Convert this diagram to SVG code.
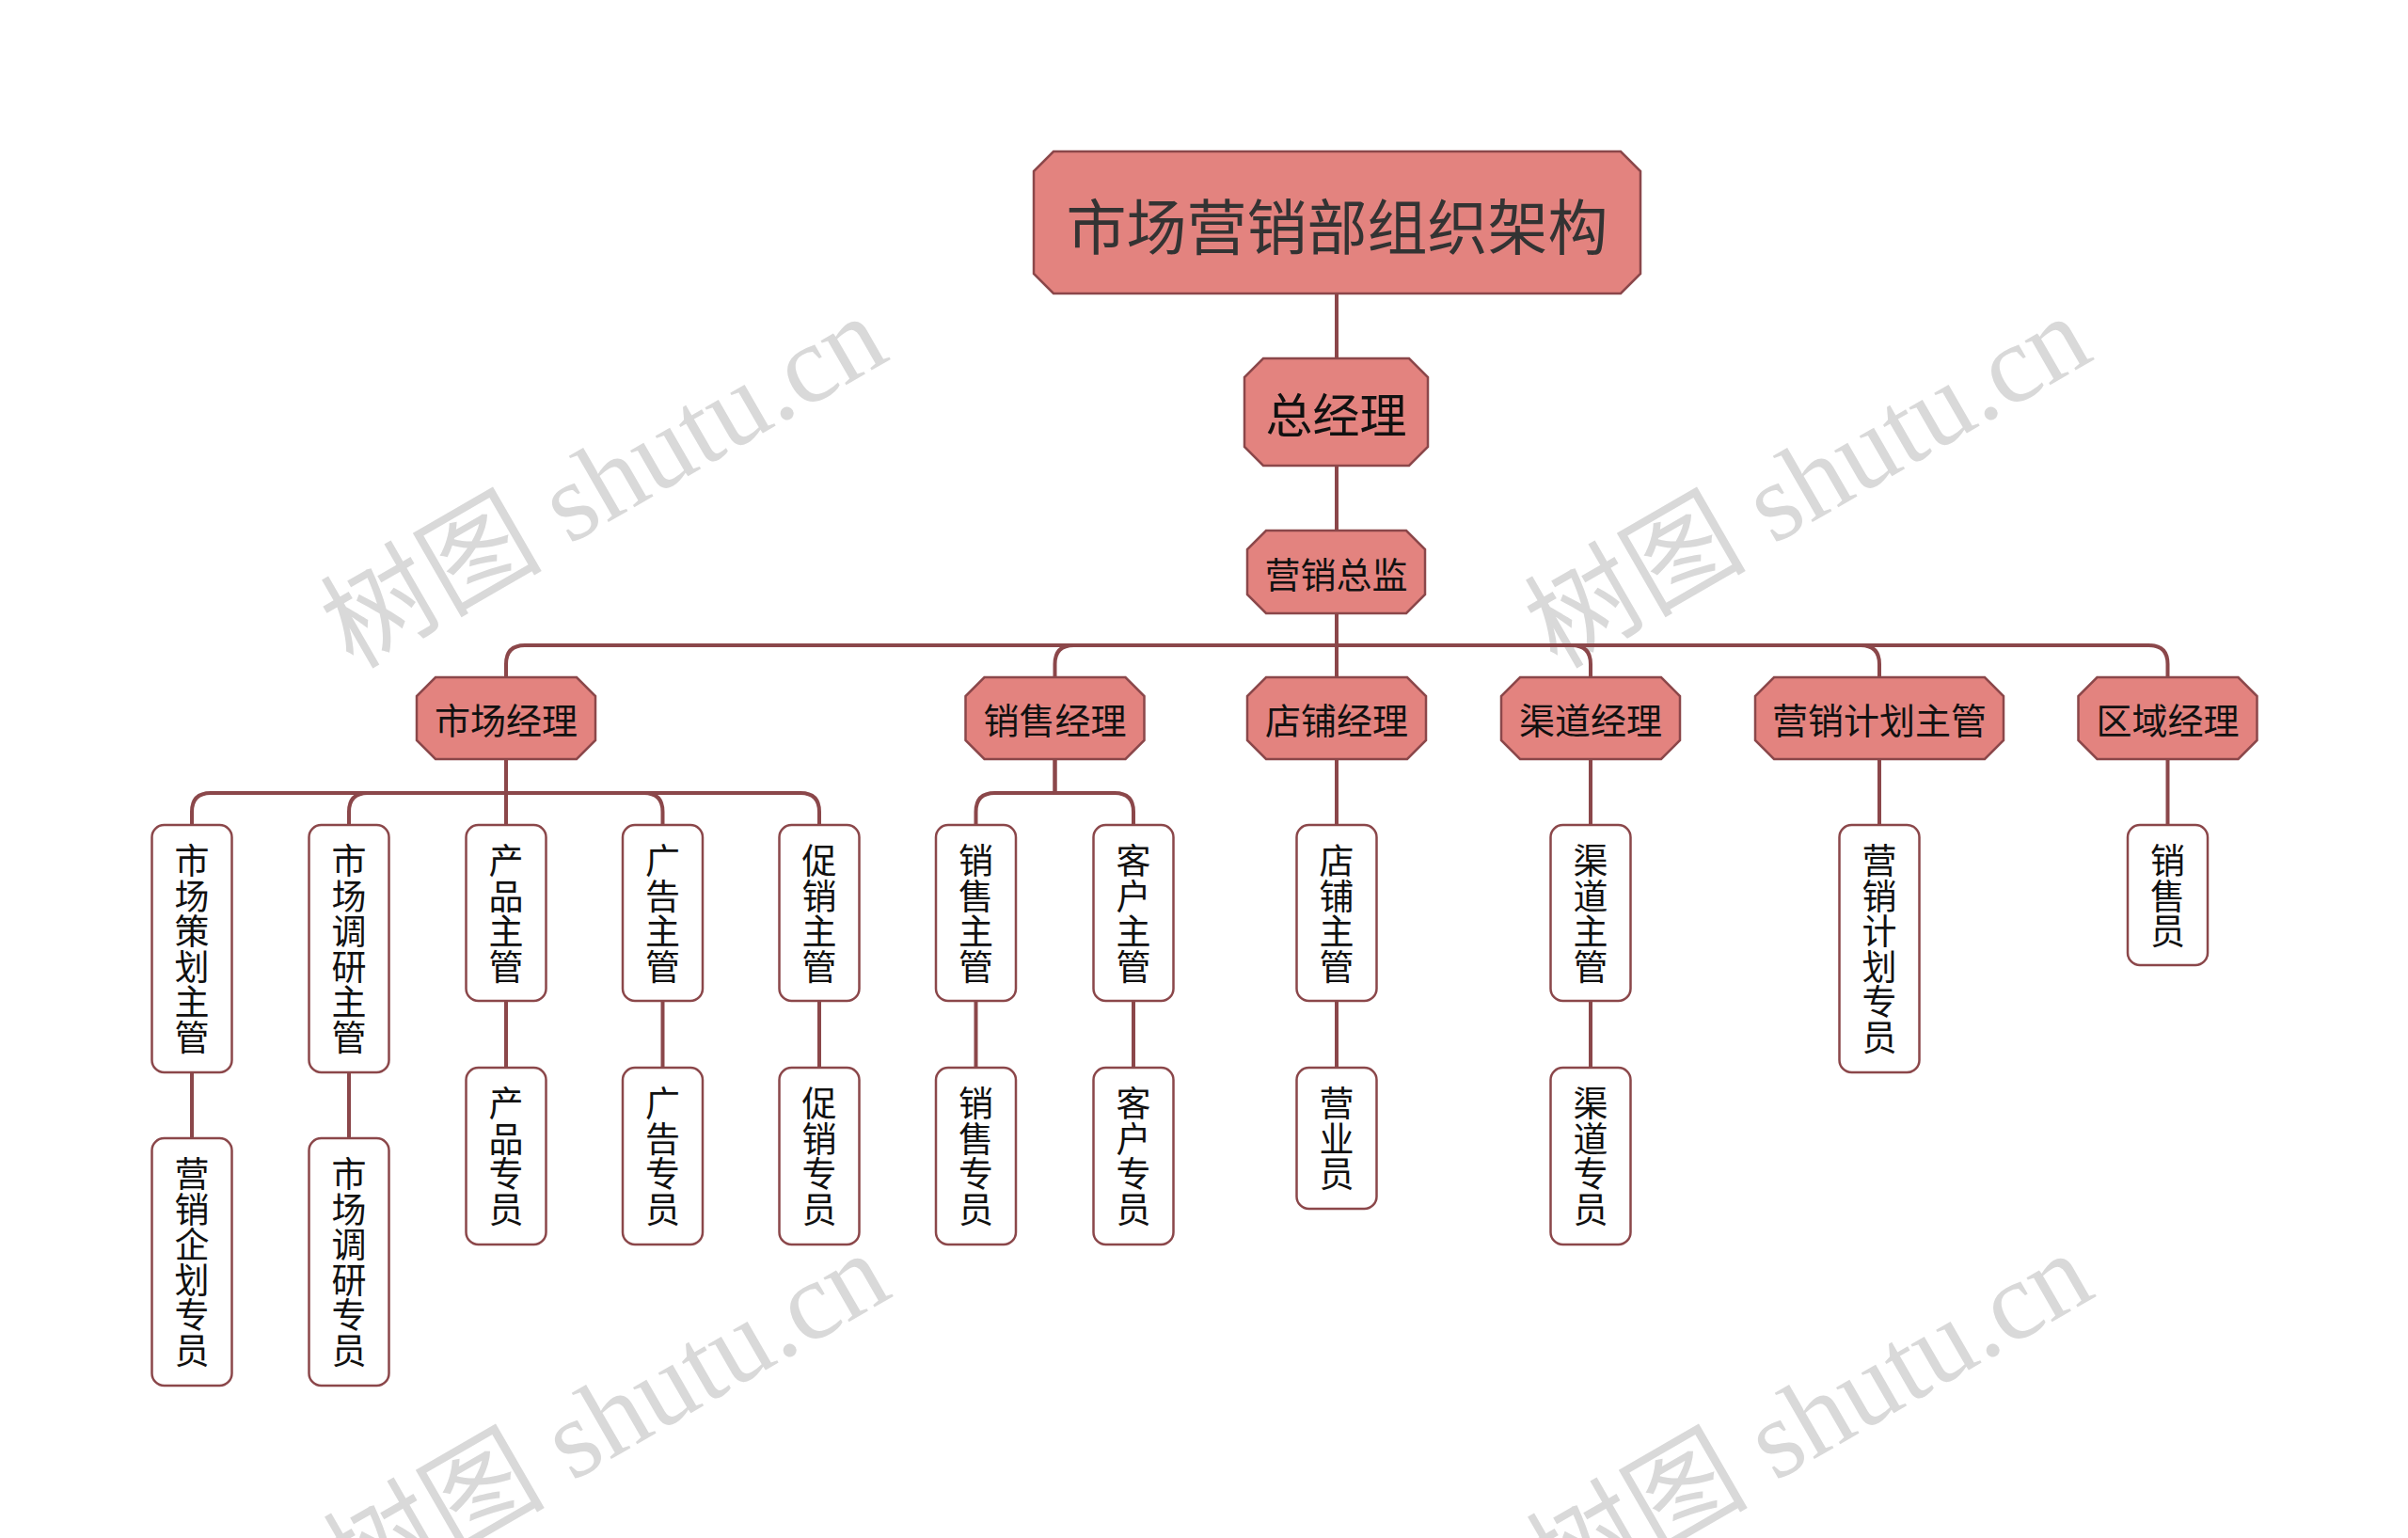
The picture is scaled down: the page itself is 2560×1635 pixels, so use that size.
<svg xmlns="http://www.w3.org/2000/svg" width="2560" height="1635" viewBox="0 0 2560 1635">
<style>
.bg{fill:#ffffff}
.oct{fill:#E3837F;stroke:#8B474A;stroke-width:2.5}
.leaf{fill:#ffffff;stroke:#8B474A;stroke-width:2.5}
#connectors path{fill:none;stroke:#8B474A;stroke-width:4}
.t{font-family:"Noto Sans CJK SC","Noto Sans",sans-serif;fill:#111111;text-anchor:middle;dominant-baseline:central}
.root{font-size:64px;fill:#333333}
.l1{font-size:50px}
.l2{font-size:38px}
.lf{font-size:37px}
.wm{font-family:"Liberation Serif","Noto Sans CJK SC",serif;font-size:118px;fill:#d9d9d9}
</style>
<rect class="bg" x="0" y="0" width="2560" height="1635"/>
<g id="watermarks">
<text class="wm" transform="translate(375,712) rotate(-30)">树图 shutu.cn</text>
<text class="wm" transform="translate(1655,712) rotate(-30)">树图 shutu.cn</text>
<text class="wm" transform="translate(378,1708) rotate(-30)">树图 shutu.cn</text>
<text class="wm" transform="translate(1657,1708) rotate(-30)">树图 shutu.cn</text>
</g>
<g id="connectors">
<path d="M1421 312 V381"/>
<path d="M1421 495 V564"/>
<path d="M1421 652 V686 H558 Q538 686 538 706 V720"/>
<path d="M1421 652 V686 H1141.5 Q1121.5 686 1121.5 706 V720"/>
<path d="M1421 652 V720"/>
<path d="M1421 652 V686 H1671 Q1691 686 1691 706 V720"/>
<path d="M1421 652 V686 H1978 Q1998 686 1998 706 V720"/>
<path d="M1421 652 V686 H2284.5 Q2304.5 686 2304.5 706 V720"/>
<path d="M538 807 V843 H224 Q204 843 204 863 V877"/>
<path d="M538 807 V843 H391 Q371 843 371 863 V877"/>
<path d="M538 807 V877"/>
<path d="M538 807 V843 H684.5 Q704.5 843 704.5 863 V877"/>
<path d="M538 807 V843 H851 Q871 843 871 863 V877"/>
<path d="M1121.5 807 V843 H1057.5 Q1037.5 843 1037.5 863 V877"/>
<path d="M1121.5 807 V843 H1185 Q1205 843 1205 863 V877"/>
<path d="M1421 807 V877"/>
<path d="M1691 807 V877"/>
<path d="M1998 807 V877"/>
<path d="M2304.5 807 V877"/>
<path d="M204 1140 V1210"/>
<path d="M371 1140 V1210"/>
<path d="M538 1064 V1135"/>
<path d="M704.5 1064 V1135"/>
<path d="M871 1064 V1135"/>
<path d="M1037.5 1064 V1135"/>
<path d="M1205 1064 V1135"/>
<path d="M1421 1064 V1135"/>
<path d="M1691 1064 V1135"/>
</g>
<g id="n-root">
<path class="oct" d="M1120 161 H1723 L1744 182 V291 L1723 312 H1120 L1099 291 V182 Z"/>
<text class="t root" x="1421.5" y="237">市场营销部组织架构</text>
</g>
<g id="n-gm">
<path class="oct" d="M1343 381 H1498 L1518 401 V475 L1498 495 H1343 L1323 475 V401 Z"/>
<text class="t l1" x="1420.5" y="438">总经理</text>
</g>
<g id="n-cmo">
<path class="oct" d="M1346 564 H1495 L1515 584 V632 L1495 652 H1346 L1326 632 V584 Z"/>
<text class="t l2" x="1420.5" y="608">营销总监</text>
</g>
<g id="n-market-mgr">
<path class="oct" d="M463 720 H613 L633 740 V787 L613 807 H463 L443 787 V740 Z"/>
<text class="t l2" x="538" y="763.5">市场经理</text>
</g>
<g id="n-sales-mgr">
<path class="oct" d="M1046.5 720 H1196.5 L1216.5 740 V787 L1196.5 807 H1046.5 L1026.5 787 V740 Z"/>
<text class="t l2" x="1121.5" y="763.5">销售经理</text>
</g>
<g id="n-store-mgr">
<path class="oct" d="M1346 720 H1496 L1516 740 V787 L1496 807 H1346 L1326 787 V740 Z"/>
<text class="t l2" x="1421" y="763.5">店铺经理</text>
</g>
<g id="n-channel-mgr">
<path class="oct" d="M1616 720 H1766 L1786 740 V787 L1766 807 H1616 L1596 787 V740 Z"/>
<text class="t l2" x="1691" y="763.5">渠道经理</text>
</g>
<g id="n-plan-mgr">
<path class="oct" d="M1886 720 H2110 L2130 740 V787 L2110 807 H1886 L1866 787 V740 Z"/>
<text class="t l2" x="1998" y="763.5">营销计划主管</text>
</g>
<g id="n-region-mgr">
<path class="oct" d="M2229.5 720 H2379.5 L2399.5 740 V787 L2379.5 807 H2229.5 L2209.5 787 V740 Z"/>
<text class="t l2" x="2304.5" y="763.5">区域经理</text>
</g>
<g id="n-l3-1">
<rect class="leaf" x="161.5" y="877" width="85" height="263" rx="13"/>
<text class="t lf"><tspan x="204" y="913">市</tspan><tspan x="204" y="950.5">场</tspan><tspan x="204" y="988">策</tspan><tspan x="204" y="1025.5">划</tspan><tspan x="204" y="1063">主</tspan><tspan x="204" y="1100.5">管</tspan></text>
</g>
<g id="n-l3-2">
<rect class="leaf" x="328.5" y="877" width="85" height="263" rx="13"/>
<text class="t lf"><tspan x="371" y="913">市</tspan><tspan x="371" y="950.5">场</tspan><tspan x="371" y="988">调</tspan><tspan x="371" y="1025.5">研</tspan><tspan x="371" y="1063">主</tspan><tspan x="371" y="1100.5">管</tspan></text>
</g>
<g id="n-l3-3">
<rect class="leaf" x="495.5" y="877" width="85" height="187" rx="13"/>
<text class="t lf"><tspan x="538" y="913">产</tspan><tspan x="538" y="950.5">品</tspan><tspan x="538" y="988">主</tspan><tspan x="538" y="1025.5">管</tspan></text>
</g>
<g id="n-l3-4">
<rect class="leaf" x="662" y="877" width="85" height="187" rx="13"/>
<text class="t lf"><tspan x="704.5" y="913">广</tspan><tspan x="704.5" y="950.5">告</tspan><tspan x="704.5" y="988">主</tspan><tspan x="704.5" y="1025.5">管</tspan></text>
</g>
<g id="n-l3-5">
<rect class="leaf" x="828.5" y="877" width="85" height="187" rx="13"/>
<text class="t lf"><tspan x="871" y="913">促</tspan><tspan x="871" y="950.5">销</tspan><tspan x="871" y="988">主</tspan><tspan x="871" y="1025.5">管</tspan></text>
</g>
<g id="n-l3-6">
<rect class="leaf" x="995" y="877" width="85" height="187" rx="13"/>
<text class="t lf"><tspan x="1037.5" y="913">销</tspan><tspan x="1037.5" y="950.5">售</tspan><tspan x="1037.5" y="988">主</tspan><tspan x="1037.5" y="1025.5">管</tspan></text>
</g>
<g id="n-l3-7">
<rect class="leaf" x="1162.5" y="877" width="85" height="187" rx="13"/>
<text class="t lf"><tspan x="1205" y="913">客</tspan><tspan x="1205" y="950.5">户</tspan><tspan x="1205" y="988">主</tspan><tspan x="1205" y="1025.5">管</tspan></text>
</g>
<g id="n-l3-8">
<rect class="leaf" x="1378.5" y="877" width="85" height="187" rx="13"/>
<text class="t lf"><tspan x="1421" y="913">店</tspan><tspan x="1421" y="950.5">铺</tspan><tspan x="1421" y="988">主</tspan><tspan x="1421" y="1025.5">管</tspan></text>
</g>
<g id="n-l3-9">
<rect class="leaf" x="1648.5" y="877" width="85" height="187" rx="13"/>
<text class="t lf"><tspan x="1691" y="913">渠</tspan><tspan x="1691" y="950.5">道</tspan><tspan x="1691" y="988">主</tspan><tspan x="1691" y="1025.5">管</tspan></text>
</g>
<g id="n-l3-10">
<rect class="leaf" x="1955.5" y="877" width="85" height="263" rx="13"/>
<text class="t lf"><tspan x="1998" y="913">营</tspan><tspan x="1998" y="950.5">销</tspan><tspan x="1998" y="988">计</tspan><tspan x="1998" y="1025.5">划</tspan><tspan x="1998" y="1063">专</tspan><tspan x="1998" y="1100.5">员</tspan></text>
</g>
<g id="n-l3-11">
<rect class="leaf" x="2262" y="877" width="85" height="149" rx="13"/>
<text class="t lf"><tspan x="2304.5" y="913">销</tspan><tspan x="2304.5" y="950.5">售</tspan><tspan x="2304.5" y="988">员</tspan></text>
</g>
<g id="n-l4-1">
<rect class="leaf" x="161.5" y="1210" width="85" height="263" rx="13"/>
<text class="t lf"><tspan x="204" y="1246">营</tspan><tspan x="204" y="1283.5">销</tspan><tspan x="204" y="1321">企</tspan><tspan x="204" y="1358.5">划</tspan><tspan x="204" y="1396">专</tspan><tspan x="204" y="1433.5">员</tspan></text>
</g>
<g id="n-l4-2">
<rect class="leaf" x="328.5" y="1210" width="85" height="263" rx="13"/>
<text class="t lf"><tspan x="371" y="1246">市</tspan><tspan x="371" y="1283.5">场</tspan><tspan x="371" y="1321">调</tspan><tspan x="371" y="1358.5">研</tspan><tspan x="371" y="1396">专</tspan><tspan x="371" y="1433.5">员</tspan></text>
</g>
<g id="n-l4-3">
<rect class="leaf" x="495.5" y="1135" width="85" height="188" rx="13"/>
<text class="t lf"><tspan x="538" y="1171">产</tspan><tspan x="538" y="1208.5">品</tspan><tspan x="538" y="1246">专</tspan><tspan x="538" y="1283.5">员</tspan></text>
</g>
<g id="n-l4-4">
<rect class="leaf" x="662" y="1135" width="85" height="188" rx="13"/>
<text class="t lf"><tspan x="704.5" y="1171">广</tspan><tspan x="704.5" y="1208.5">告</tspan><tspan x="704.5" y="1246">专</tspan><tspan x="704.5" y="1283.5">员</tspan></text>
</g>
<g id="n-l4-5">
<rect class="leaf" x="828.5" y="1135" width="85" height="188" rx="13"/>
<text class="t lf"><tspan x="871" y="1171">促</tspan><tspan x="871" y="1208.5">销</tspan><tspan x="871" y="1246">专</tspan><tspan x="871" y="1283.5">员</tspan></text>
</g>
<g id="n-l4-6">
<rect class="leaf" x="995" y="1135" width="85" height="188" rx="13"/>
<text class="t lf"><tspan x="1037.5" y="1171">销</tspan><tspan x="1037.5" y="1208.5">售</tspan><tspan x="1037.5" y="1246">专</tspan><tspan x="1037.5" y="1283.5">员</tspan></text>
</g>
<g id="n-l4-7">
<rect class="leaf" x="1162.5" y="1135" width="85" height="188" rx="13"/>
<text class="t lf"><tspan x="1205" y="1171">客</tspan><tspan x="1205" y="1208.5">户</tspan><tspan x="1205" y="1246">专</tspan><tspan x="1205" y="1283.5">员</tspan></text>
</g>
<g id="n-l4-8">
<rect class="leaf" x="1378.5" y="1135" width="85" height="150" rx="13"/>
<text class="t lf"><tspan x="1421" y="1171">营</tspan><tspan x="1421" y="1208.5">业</tspan><tspan x="1421" y="1246">员</tspan></text>
</g>
<g id="n-l4-9">
<rect class="leaf" x="1648.5" y="1135" width="85" height="188" rx="13"/>
<text class="t lf"><tspan x="1691" y="1171">渠</tspan><tspan x="1691" y="1208.5">道</tspan><tspan x="1691" y="1246">专</tspan><tspan x="1691" y="1283.5">员</tspan></text>
</g>
</svg>
